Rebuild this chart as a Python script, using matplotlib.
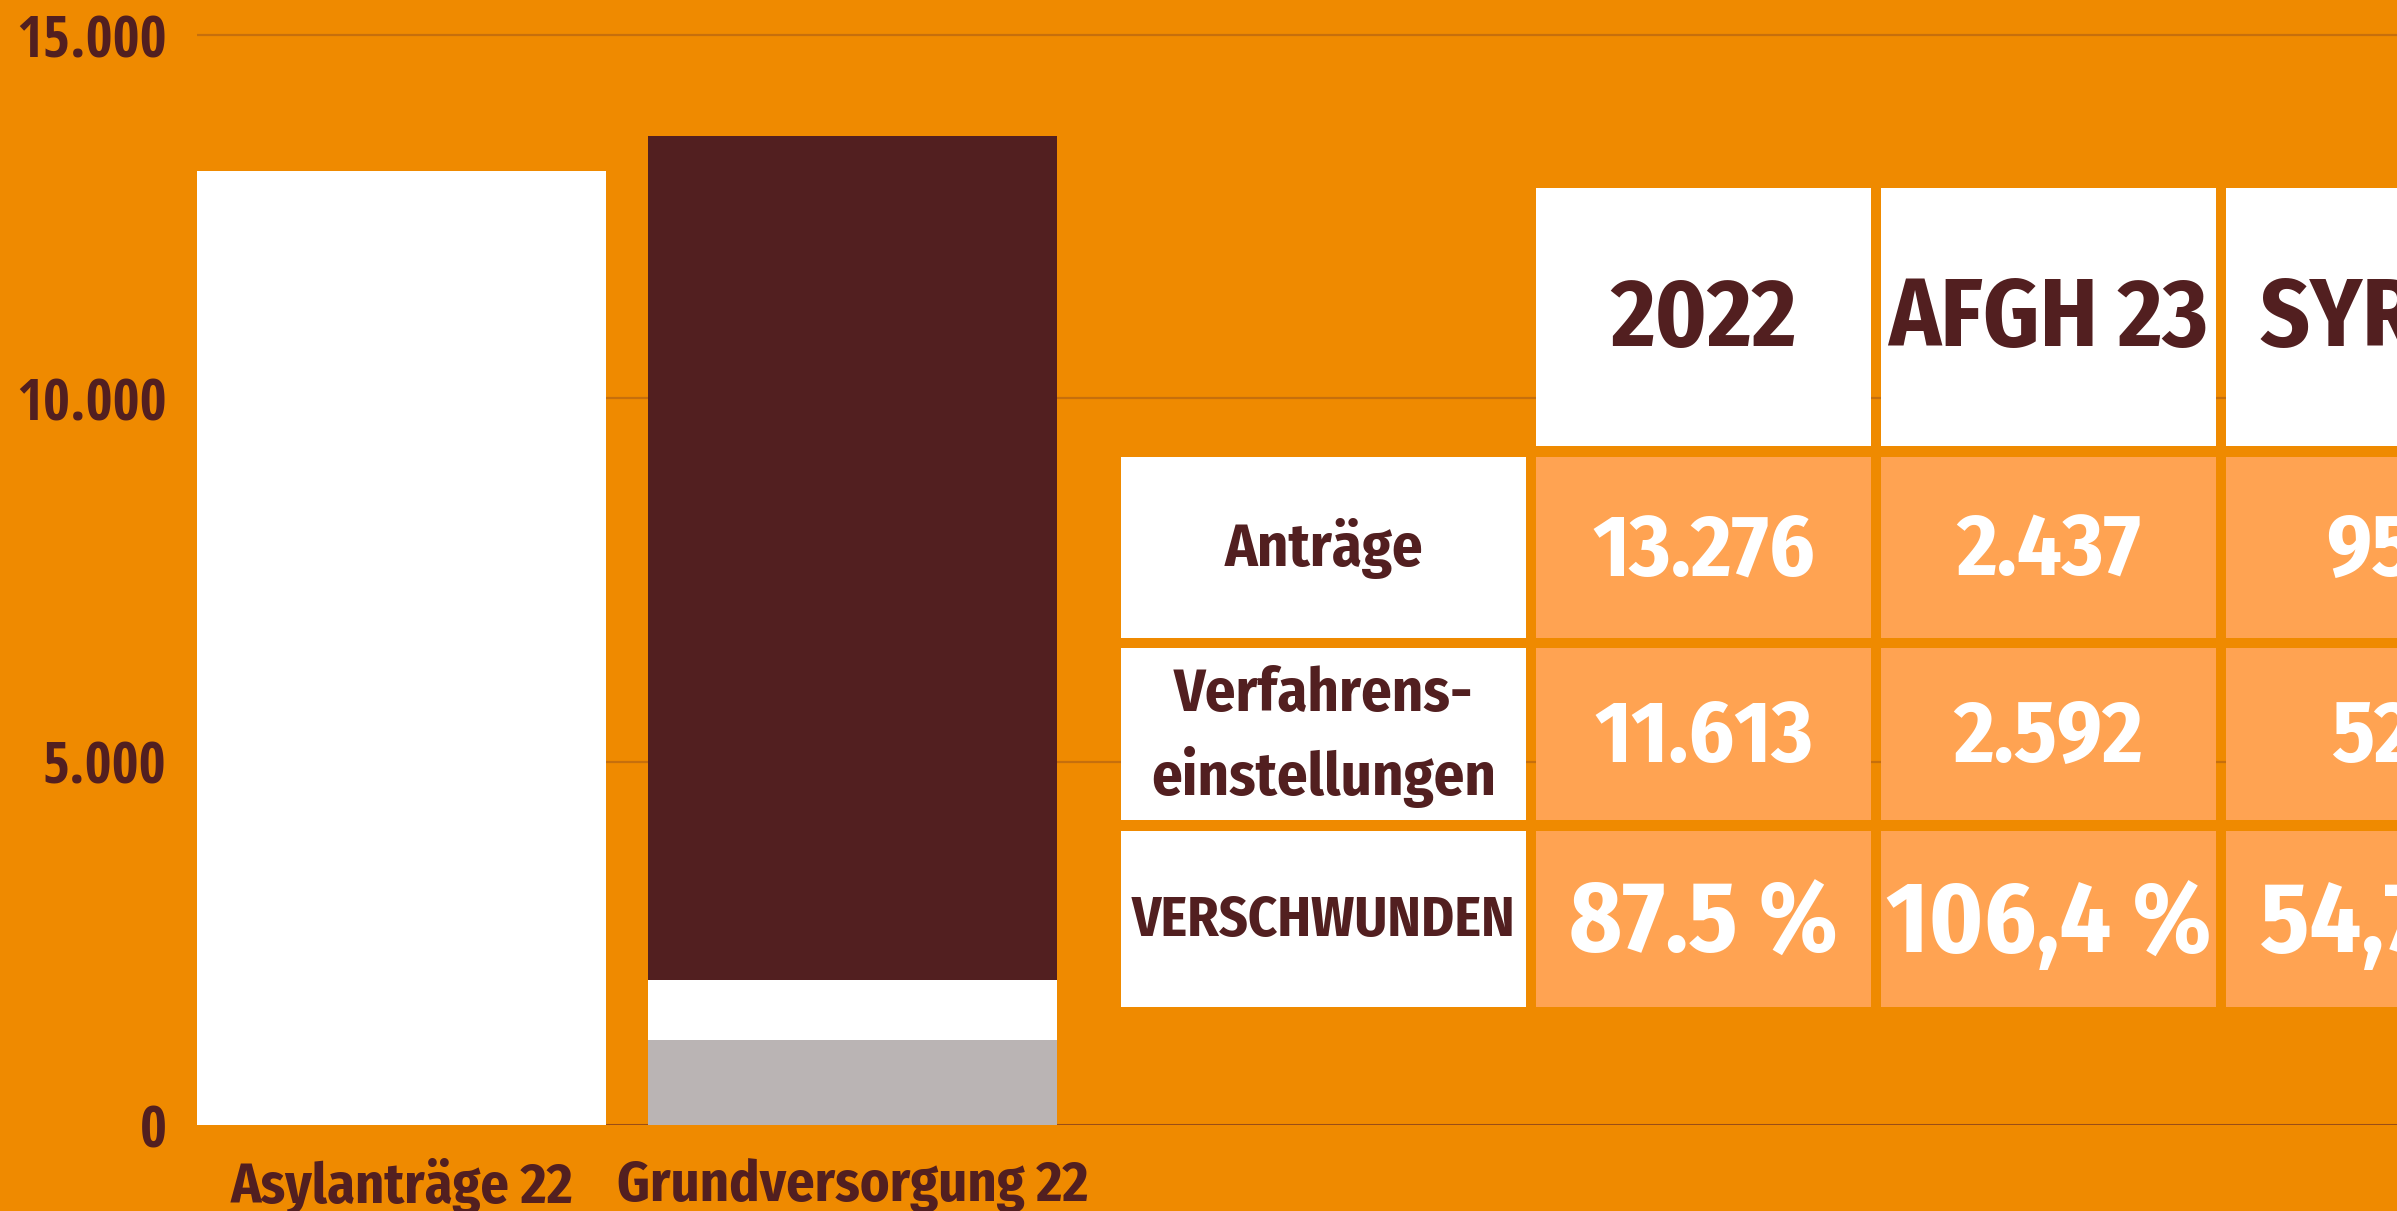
import matplotlib
matplotlib.use("Agg")
import matplotlib.pyplot as plt
from matplotlib.patches import Rectangle

# ---------------- data ----------------
categories = ["Asylanträge 22", "Grundversorgung 22"]
asyl_value = [13130, 0]
grund_grey = [0, 1176]
grund_white = [0, 819]
grund_brown = [0, 11613]
y_ticks = [0, 5000, 10000, 15000]
y_tick_labels = ["0", "5.000", "10.000", "15.000"]

table_cols = ["2022", "AFGH 23", "SYR 23"]
table_rows = ["Anträge", "Verfahrens-\neinstellungen", "VERSCHWUNDEN"]
antraege = ["13.276", "2.437", "956"]
verfahren = ["11.613", "2.592", "523"]
verschwunden = ["87.5 %", "106,4 %", "54,7 %"]

# ---------------- style ----------------
BG = "#EF8A00"
BROWN = "#521F20"
GREY = "#BAB4B4"
CELL = "#FFA352"
GRID = "#C66F0C"
BASE = "#9A4E16"

plt.rcParams["font.family"] = ["Fira Sans Condensed", "DejaVu Sans"]
plt.rcParams["font.weight"] = "bold"
CAP = 0.689  # cap height / em
K = 0.714 / CAP

W, H, DPI = 2397, 1211, 100
fig = plt.figure(figsize=(W / DPI, H / DPI), dpi=DPI, facecolor=BG)

# main axes (pixel scale: 1090 px per 15000)
ymax = 15300
ax = fig.add_axes([197 / W, 86 / H, 1 - 197 / W, (ymax * 1090 / 15000) / H])
ax.set_facecolor(BG)
ax.set_ylim(0, ymax)
bw = 0.907
ax.set_xlim(-bw / 2, -bw / 2 + (W - 197) / 451)
x = list(range(len(categories)))

ax.bar(x, asyl_value, width=bw, color="white", zorder=2)
ax.bar(x, grund_grey, width=bw, color=GREY, zorder=2)
ax.bar(x, grund_white, width=bw, bottom=grund_grey, color="white", zorder=2)
bot = [g + w for g, w in zip(grund_grey, grund_white)]
ax.bar(x, grund_brown, width=bw, bottom=bot, color=BROWN, zorder=2)

for t in y_ticks[1:]:
    ax.axhline(t, color=GRID, lw=1.6, zorder=1)
ax.axhline(0, color=BASE, lw=2.2, zorder=1.5)

for s in ax.spines.values():
    s.set_visible(False)
ax.set_yticks(y_ticks)
ax.set_yticklabels(y_tick_labels, fontsize=42, color=BROWN, fontweight="bold",
                   family=["Open Sans Condensed", "DejaVu Sans"])
ax.set_xticks(x)
ax.set_xticklabels(categories, fontsize=39 * K, color=BROWN, fontweight="bold")
ax.tick_params(axis="y", length=0, pad=22)
ax.tick_params(axis="x", length=0, pad=24)

# ---------------- table overlay ----------------
ov = fig.add_axes([0, 0, 1, 1], zorder=5)
ov.set_xlim(0, W)
ov.set_ylim(H, 0)
ov.axis("off")
ov.patch.set_visible(False)

label_x = (1121, 1526)
col_x = [(1536, 1871), (1881, 2216), (2226, 2561)]
head_y = (188, 446)
row_y = [(457, 638), (648, 820), (831, 1007)]


def put(cx, cy, s, size, color):
    size = size * K
    px = size / 0.72
    ov.text(cx, cy + CAP * px / 2, s, ha="center", va="baseline", fontsize=size,
            color=color, fontweight="bold", clip_on=False)


for (x0, x1), lab in zip(col_x, table_cols):
    ov.add_patch(Rectangle((x0, head_y[0]), x1 - x0, head_y[1] - head_y[0],
                           facecolor="white", edgecolor="none"))
    put((x0 + x1) / 2, (head_y[0] + head_y[1]) / 2 - 4, lab, 67, BROWN)

row_values = [antraege, verfahren, verschwunden]
row_sizes = [61, 61, 70]
for (y0, y1), lab, vals, vs in zip(row_y, table_rows, row_values, row_sizes):
    ov.add_patch(Rectangle((label_x[0], y0), label_x[1] - label_x[0], y1 - y0,
                           facecolor="white", edgecolor="none"))
    cy = (y0 + y1) / 2 - 2
    lines = lab.split("\n")
    lsize = 39 if lab.isupper() else 42
    step = 84
    for i, ln in enumerate(lines):
        off = (i - (len(lines) - 1) / 2) * step
        put((label_x[0] + label_x[1]) / 2, cy + off, ln, lsize, BROWN)
    for (x0, x1), v in zip(col_x, vals):
        ov.add_patch(Rectangle((x0, y0), x1 - x0, y1 - y0,
                               facecolor=CELL, edgecolor="none"))
        put((x0 + x1) / 2, cy, v, vs, "white")

fig.savefig("out.png", dpi=DPI, facecolor=BG)
